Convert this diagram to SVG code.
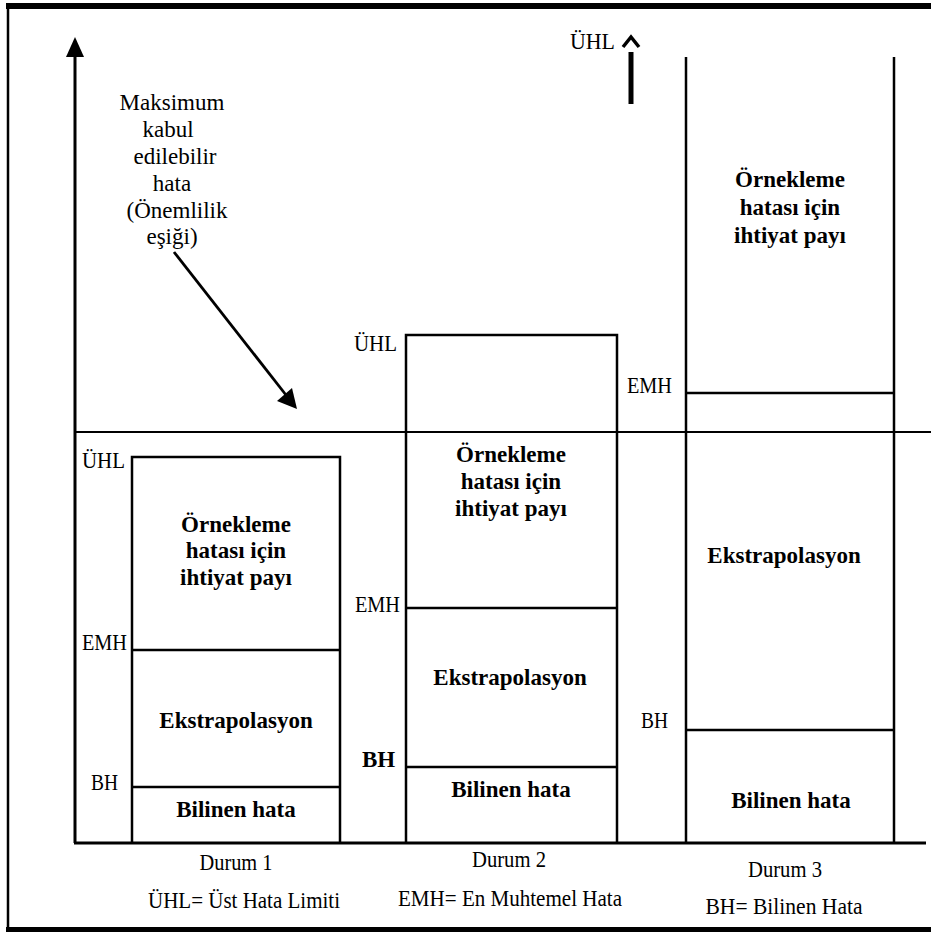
<svg xmlns="http://www.w3.org/2000/svg" width="931" height="934" viewBox="0 0 931 934">
<style>
.ln{stroke:#000;fill:none;stroke-width:2.5}
.lbl{font-family:"Liberation Serif","Times New Roman",serif;font-size:24px;fill:#000}
.b{font-family:"Liberation Serif","Times New Roman",serif;font-size:23px;font-weight:bold;fill:#000;text-anchor:middle}
.cap{font-family:"Liberation Serif","Times New Roman",serif;font-size:24px;fill:#000;text-anchor:middle}
.mk{font-family:"Liberation Serif","Times New Roman",serif;font-size:23px;fill:#000;text-anchor:middle}
</style>
<rect width="931" height="934" fill="#fff"/>
<g id="frame">
<rect x="6" y="3" width="925" height="6" fill="#000"/>
<line x1="8" y1="5" x2="8" y2="930" class="ln"/>
<rect x="6" y="927" width="925" height="5" fill="#000"/>
</g>
<g id="connectors">
<line x1="75" y1="52" x2="75" y2="843" stroke="#000" stroke-width="3"/>
<path d="M75,37 L84,57 L66,57 z" fill="#000"/>
<line x1="74" y1="843" x2="926" y2="843" stroke="#000" stroke-width="3"/>
<line x1="75" y1="432" x2="931" y2="432" stroke="#000" stroke-width="2"/>
<line x1="174" y1="252" x2="286" y2="395" stroke="#000" stroke-width="2.8"/>
<path d="M297,409 L277,401 L292,388 z" fill="#000"/>
<line x1="631" y1="52" x2="631" y2="104" stroke="#000" stroke-width="5"/>
</g>
<g id="threshold-label">
<text class="mk" x="172" y="110">Maksimum</text>
<text class="mk" x="168" y="137">kabul</text>
<text class="mk" x="175" y="164">edilebilir</text>
<text class="mk" x="172" y="191">hata</text>
<text class="mk" x="177" y="218">(Önemlilik</text>
<text class="mk" x="172" y="244">eşiği)</text>
</g>
<g id="top-uhl">
<text class="lbl" x="570" y="49" textLength="45" lengthAdjust="spacingAndGlyphs">ÜHL</text>
<path d="M623,47 L631,37 L639,47" fill="none" stroke="#000" stroke-width="3.5"/>
</g>
<g id="durum1">
<path class="ln" d="M132,843 L132,457 L340,457 L340,843"/>
<line class="ln" x1="132" y1="650" x2="340" y2="650"/>
<line class="ln" x1="132" y1="787" x2="340" y2="787"/>
<text class="lbl" x="82" y="468" textLength="43" lengthAdjust="spacingAndGlyphs">ÜHL</text>
<text class="lbl" x="82" y="650" textLength="45" lengthAdjust="spacingAndGlyphs">EMH</text>
<text class="lbl" x="91" y="790" textLength="27" lengthAdjust="spacingAndGlyphs">BH</text>
<text class="b" x="236" y="532">Örnekleme</text>
<text class="b" x="236" y="558">hatası için</text>
<text class="b" x="236" y="585">ihtiyat  payı</text>
<text class="b" x="236" y="728">Ekstrapolasyon</text>
<text class="b" x="236" y="817">Bilinen hata</text>
<text class="cap" x="236" y="870" textLength="73" lengthAdjust="spacingAndGlyphs">Durum 1</text>
<text class="cap" x="244" y="908" textLength="192" lengthAdjust="spacingAndGlyphs">ÜHL= Üst Hata Limiti</text>
</g>
<g id="durum2">
<path class="ln" d="M406,843 L406,335 L617,335 L617,843"/>
<line class="ln" x1="406" y1="608" x2="617" y2="608"/>
<line class="ln" x1="406" y1="767" x2="617" y2="767"/>
<text class="lbl" x="354" y="351" textLength="43" lengthAdjust="spacingAndGlyphs">ÜHL</text>
<text class="lbl" x="355" y="612" textLength="45" lengthAdjust="spacingAndGlyphs">EMH</text>
<text x="362" y="767" font-family="Liberation Serif, Times New Roman, serif" font-size="23" font-weight="bold">BH</text>
<text class="b" x="511" y="462">Örnekleme</text>
<text class="b" x="511" y="489">hatası için</text>
<text class="b" x="511" y="516">ihtiyat  payı</text>
<text class="b" x="510" y="685">Ekstrapolasyon</text>
<text class="b" x="511" y="797">Bilinen hata</text>
<text class="cap" x="509" y="867" textLength="74" lengthAdjust="spacingAndGlyphs">Durum 2</text>
<text class="cap" x="510" y="906" textLength="224" lengthAdjust="spacingAndGlyphs">EMH= En Muhtemel Hata</text>
</g>
<g id="durum3">
<path class="ln" d="M686,843 L686,57 M894,57 L894,843"/>
<line class="ln" x1="686" y1="393" x2="894" y2="393"/>
<line class="ln" x1="686" y1="730" x2="894" y2="730"/>
<text class="lbl" x="627" y="393" textLength="45" lengthAdjust="spacingAndGlyphs">EMH</text>
<text class="lbl" x="641" y="728" textLength="27" lengthAdjust="spacingAndGlyphs">BH</text>
<text class="b" x="790" y="187">Örnekleme</text>
<text class="b" x="790" y="215">hatası için</text>
<text class="b" x="790" y="243">ihtiyat  payı</text>
<text class="b" x="784" y="563">Ekstrapolasyon</text>
<text class="b" x="791" y="808">Bilinen hata</text>
<text class="cap" x="785" y="877" textLength="74" lengthAdjust="spacingAndGlyphs">Durum 3</text>
<text class="cap" x="784" y="914" textLength="157" lengthAdjust="spacingAndGlyphs">BH= Bilinen Hata</text>
</g>
</svg>
